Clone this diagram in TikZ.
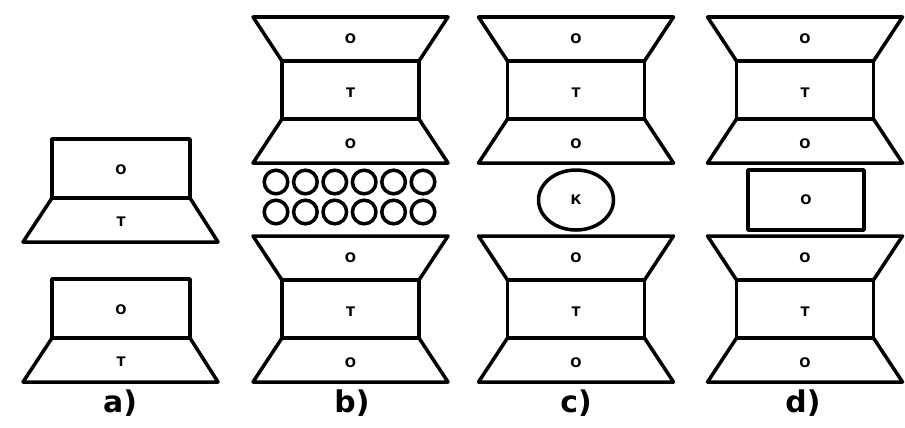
\documentclass[tikz,border=0pt]{standalone}
\usepackage{fontspec}
\setsansfont{DejaVu Sans}
\usepackage{tikz}
\tikzset{
    part/.style={line width=2pt, line join=round},
    lbl/.style={font=\sffamily\bfseries\fontsize{7.5}{8}\selectfont, inner sep=0pt},
    capt/.style={font=\sffamily\bfseries\fontsize{17}{18}\selectfont, inner sep=0pt},
}

\begin{document}
\begin{tikzpicture}[x=0.02cm, y=-0.02cm]
\useasboundingbox (0,0) rectangle (905,427);

% a) two single units
\foreach \t/\i in {139/1,279/2}{
    \draw[part] (52,\t) rectangle (190,\t+59);
    \draw[part] (52,\t+59) -- (190,\t+59) -- (218,\t+103) -- (23,\t+103) -- cycle;
    \node[lbl] (a-o\i) at (121,\t+31) {О};
    \node[lbl] (a-t\i) at (121,\t+83) {Т};
}

% b), c), d) upper and lower stacks
\foreach \c/\n in {350.5/b,576/c,805/d}{
    \foreach \t/\i in {17/1,236/2}{
        \draw[part] (\c-97.5,\t) -- (\c+97.5,\t) -- (\c+68.5,\t+44) -- (\c-68.5,\t+44) -- cycle;
        \draw[part] (\c-68.5,\t+44) rectangle (\c+68.5,\t+102);
        \draw[part] (\c-68.5,\t+102) -- (\c+68.5,\t+102) -- (\c+97.5,\t+146) -- (\c-97.5,\t+146) -- cycle;
        \node[lbl] (\n-ou\i) at (\c,\t+22) {О};
        \node[lbl] (\n-t\i) at (\c,\t+76) {Т};
        \node[lbl] (\n-od\i) at (\c,\t+127) {О};
    }
}

% b) layer of balls
\foreach \y in {182,212}{
    \foreach \k in {0,...,5}{
        \draw[part] (276+29.4*\k,\y) circle[radius=11.8];
    }
}

% c) lens
\draw[part] (576,200) ellipse[x radius=37.5, y radius=30];
\node[lbl] (c-k) at (576,200) {К};

% d) middle plate
\draw[part] (748,170) rectangle (864,230);
\node[lbl] (d-o) at (806,200) {О};

% captions
\foreach \x/\l in {120/a,352/b,576/c,803/d}{
    \node[capt] (cap-\l) at (\x,403) {\l)};
}
\end{tikzpicture}
\end{document}
